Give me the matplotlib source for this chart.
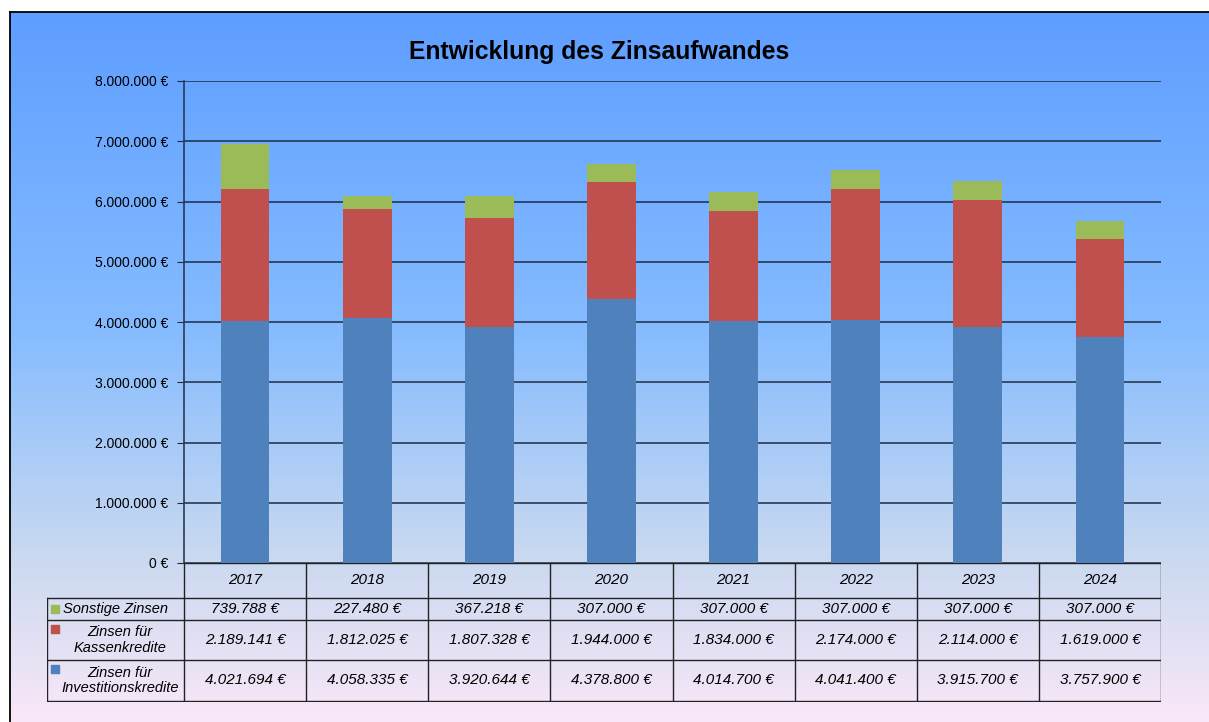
import numpy as np
import matplotlib
matplotlib.use("Agg")
import matplotlib.pyplot as plt
from matplotlib.colors import LinearSegmentedColormap

plt.rcParams['font.family'] = ['Liberation Sans', 'DejaVu Sans']

# data
years = ['2017', '2018', '2019', '2020', '2021', '2022', '2023', '2024']
sonstige = [739788, 227480, 367218, 307000, 307000, 307000, 307000, 307000]
kassen = [2189141, 1812025, 1807328, 1944000, 1834000, 2174000, 2114000, 1619000]
invest = [4021694, 4058335, 3920644, 4378800, 4014700, 4041400, 3915700, 3757900]
series_labels = ['Sonstige Zinsen', 'Zinsen für\nKassenkredite', 'Zinsen für\nInvestitionskredite']
colors = ['#9BBB59', '#C0504D', '#4F81BD']
yticks = [0, 1000000, 2000000, 3000000, 4000000, 5000000, 6000000, 7000000, 8000000]

W, H = 1209, 722


def euro(v):
    return f"{v:,}".replace(",", ".") + " €"


def px_box(x0, y0, x1, y1):
    # pixel box (top-left origin) -> figure rect
    return [x0 / W, 1 - y1 / H, (x1 - x0) / W, (y1 - y0) / H]


fig = plt.figure(figsize=(W / 100, H / 100), dpi=100)
fig.patch.set_facecolor('white')

# gradient background panel
bg = fig.add_axes(px_box(10, 12, W + 5, H + 5), zorder=0)
cmap = LinearSegmentedColormap.from_list('bg', [(0, '#5E9EFF'), (0.45, '#86BCFF'),
                                                (0.76, '#C9D9F0'), (1, '#FBE8F8')])
bg.imshow(np.linspace(0, 1, 256).reshape(-1, 1), aspect='auto', cmap=cmap,
          extent=[0, 1, 0, 1], origin='upper')
bg.set_xlim(0, 1)
bg.set_ylim(0, 1)
bg.set_xticks([])
bg.set_yticks([])
for s in ['right', 'bottom']:
    bg.spines[s].set_visible(False)
bg.spines['left'].set_linewidth(1.3)
bg.spines['top'].set_linewidth(1.3)

# main chart
ax = fig.add_axes(px_box(184, 81, 1161, 563), zorder=2)
ax.patch.set_alpha(0)
x = np.arange(len(years))
bw = 0.40
ax.bar(x, invest, bw, color=colors[2], zorder=3)
ax.bar(x, kassen, bw, bottom=invest, color=colors[1], zorder=3)
bot = np.array(invest) + np.array(kassen)
ax.bar(x, sonstige, bw, bottom=bot, color=colors[0], zorder=3)
ax.set_xlim(-0.5, len(years) - 0.5)
ax.set_ylim(0, 8000000)
ax.set_yticks(yticks)
ax.set_yticklabels([euro(v) for v in yticks], fontsize=10)
ax.set_xticks([])
ax.yaxis.grid(True, color='#1C2C44', linewidth=1.1, zorder=1)
ax.tick_params(axis='y', length=5, color='#1C2C44', pad=6)
for s in ['top', 'right', 'bottom']:
    ax.spines[s].set_visible(False)
ax.spines['left'].set_color('#2A3A55')
ax.spines['left'].set_linewidth(1.2)

fig.text(599 / W, 1 - 52 / H, 'Entwicklung des Zinsaufwandes', ha='center', va='center',
         fontsize=17.8, fontweight='bold')

# data table
lc = 137 / 122.1  # width of legend column in category units
tb = fig.add_axes(px_box(47, 563, 1161, 702), zorder=2)
tb.patch.set_alpha(0)
tb.set_xlim(-0.5 - lc, len(years) - 0.5)
tb.set_ylim(139, 0)
tb.axis('off')
rows = [35, 57, 97, 138]
lk = dict(color='#222222', linewidth=1.0)
# horizontal lines
tb.plot([-0.5, len(years) - 0.5], [0, 0], **lk)
for r in rows:
    tb.plot([-0.5 - lc, len(years) - 0.5], [r, r], **lk)
# vertical lines
for i in range(len(years) + 1):
    tb.plot([i - 0.5, i - 0.5], [0, rows[-1]], **lk)
tb.plot([-0.5 - lc, -0.5 - lc], [rows[0], rows[-1]], **lk)

for i, yr in enumerate(years):
    tb.text(i, rows[0] / 2, yr, ha='center', va='center', fontsize=11, style='italic')
table_rows = [sonstige, kassen, invest]
for j, vals in enumerate(table_rows):
    yc = (rows[j] + rows[j + 1]) / 2
    for i, v in enumerate(vals):
        tb.text(i, yc, euro(v), ha='center', va='center', fontsize=11, style='italic')
    # legend entry
    mx = -0.5 - lc + 8 / 122.1
    if j == 0:
        tb.scatter([mx], [yc], marker='s', s=40, color=colors[j])
        tb.text(-0.5 - lc + 16 / 122.1, yc, series_labels[j], ha='left', va='center',
                fontsize=10.5, style='italic')
    else:
        tb.scatter([mx], [rows[j] + 9], marker='s', s=40, color=colors[j])
        tb.text(-0.5 - lc + 73 / 122.1, yc, series_labels[j], ha='center', va='center',
                fontsize=10.5, style='italic', linespacing=1.1)

fig.savefig('out.png', dpi=100)
